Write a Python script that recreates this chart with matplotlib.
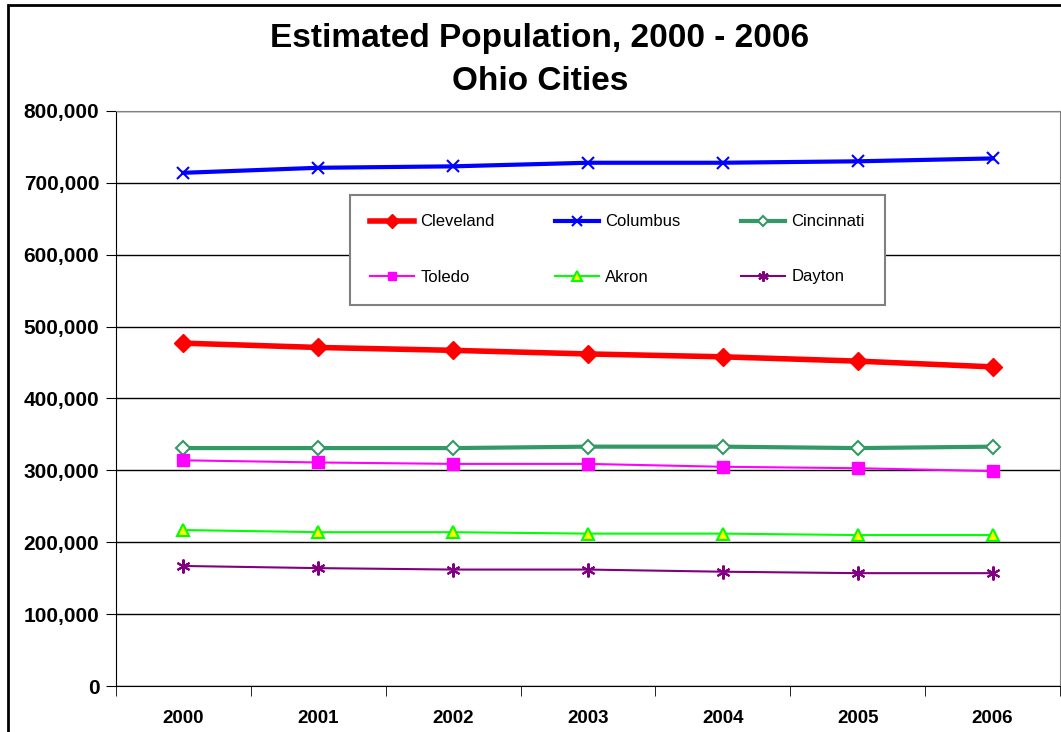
import matplotlib.pyplot as plt
from matplotlib.patches import Rectangle
from matplotlib.ticker import FuncFormatter, FixedLocator

years = ['2000', '2001', '2002', '2003', '2004', '2005', '2006']
cleveland = [477000, 471000, 467000, 462000, 458000, 452000, 444000]
columbus = [714000, 721000, 723000, 728000, 728000, 730000, 734000]
cincinnati = [331000, 331000, 331000, 333000, 333000, 331000, 333000]
toledo = [314000, 311000, 309000, 309000, 305000, 303000, 299000]
akron = [217000, 214000, 214000, 212000, 212000, 210000, 210000]
dayton = [167000, 164000, 162000, 162000, 159000, 157000, 157000]

plt.rcParams['font.family'] = ['Liberation Sans', 'DejaVu Sans']

fig = plt.figure(figsize=(10.61, 7.32), dpi=100)
ax = fig.add_axes([116 / 1061, 1 - 686 / 732, (1060 - 116) / 1061, (686 - 111) / 732])

# outer chart border
fig.patches.append(Rectangle((8 / 1061, -0.1), 1.2, 1 - 5 / 732 + 0.1, transform=fig.transFigure,
                             fill=False, edgecolor='black', lw=2))

x = list(range(len(years)))
l_cle, = ax.plot(x, cleveland, color='#ff0000', lw=4, marker='D', ms=9, mfc='#ff0000', mec='#ff0000', label='Cleveland')
l_col, = ax.plot(x, columbus, color='#0000ff', lw=3, marker='x', ms=9, mew=1.5, label='Columbus')
l_cin, = ax.plot(x, cincinnati, color='#339966', lw=3, marker='D', ms=7, mfc='white', mec='#339966', mew=1.5, label='Cincinnati')
l_tol, = ax.plot(x, toledo, color='#ff00ff', lw=1.5, marker='s', ms=8, mfc='#ff00ff', mec='#ff00ff', label='Toledo')
l_akr, = ax.plot(x, akron, color='#00ff00', lw=1.5, marker='^', ms=9, mfc='#ffff00', mec='#00ff00', mew=1.5, label='Akron')
l_day, = ax.plot(x, dayton, color='#800080', lw=1.5, marker=(6, 2, 0), ms=10, mew=1.5, mec='#800080', label='Dayton')

ax.set_xlim(-0.5, 6.5)
ax.set_ylim(0, 800000)
ax.set_yticks(range(0, 800001, 100000))
ax.yaxis.set_major_formatter(FuncFormatter(lambda v, p: f'{int(v):,}'))
ax.grid(axis='y', color='black', lw=1)
ax.set_axisbelow(True)

ax.set_xticks(x)
ax.set_xticklabels(years)
ax.xaxis.set_minor_locator(FixedLocator([i - 0.5 for i in range(8)]))
ax.tick_params(axis='x', which='major', length=0, pad=17)
ax.tick_params(axis='x', which='minor', length=7, direction='out', color='black')
ax.tick_params(axis='y', length=7, direction='out', pad=5)
for lab in ax.get_xticklabels():
    lab.set_fontweight('bold')
    lab.set_fontsize(13.5)
for lab in ax.get_yticklabels():
    lab.set_fontweight('bold')
    lab.set_fontsize(15)

ax.spines['left'].set_color('black')
ax.spines['bottom'].set_color('black')
ax.spines['top'].set_color('#808080')
ax.spines['right'].set_color('#808080')
ax.spines['bottom'].set_zorder(5)

fig.text(0.509, 1 - 38 / 732, 'Estimated Population, 2000 - 2006', ha='center', va='center',
         fontsize=24, fontweight='bold')
fig.text(0.509, 1 - 81 / 732, 'Ohio Cities', ha='center', va='center', fontsize=24, fontweight='bold')

handles = [l_cle, l_tol, l_col, l_akr, l_cin, l_day]
leg = ax.legend(handles, [h.get_label() for h in handles], ncol=3, loc='center',
                bbox_to_anchor=((342 - 116) / 944, (686 - 307) / 575, (893 - 342) / 944, (307 - 192) / 575),
                mode='expand', fontsize=12, frameon=True, fancybox=False, edgecolor='#808080',
                framealpha=1, borderpad=1.2, labelspacing=2.4, handlelength=2.6, handletextpad=0.4,
                columnspacing=2, markerscale=0.75)
leg.get_frame().set_linewidth(1.5)

fig.savefig('out.png', dpi=100)
